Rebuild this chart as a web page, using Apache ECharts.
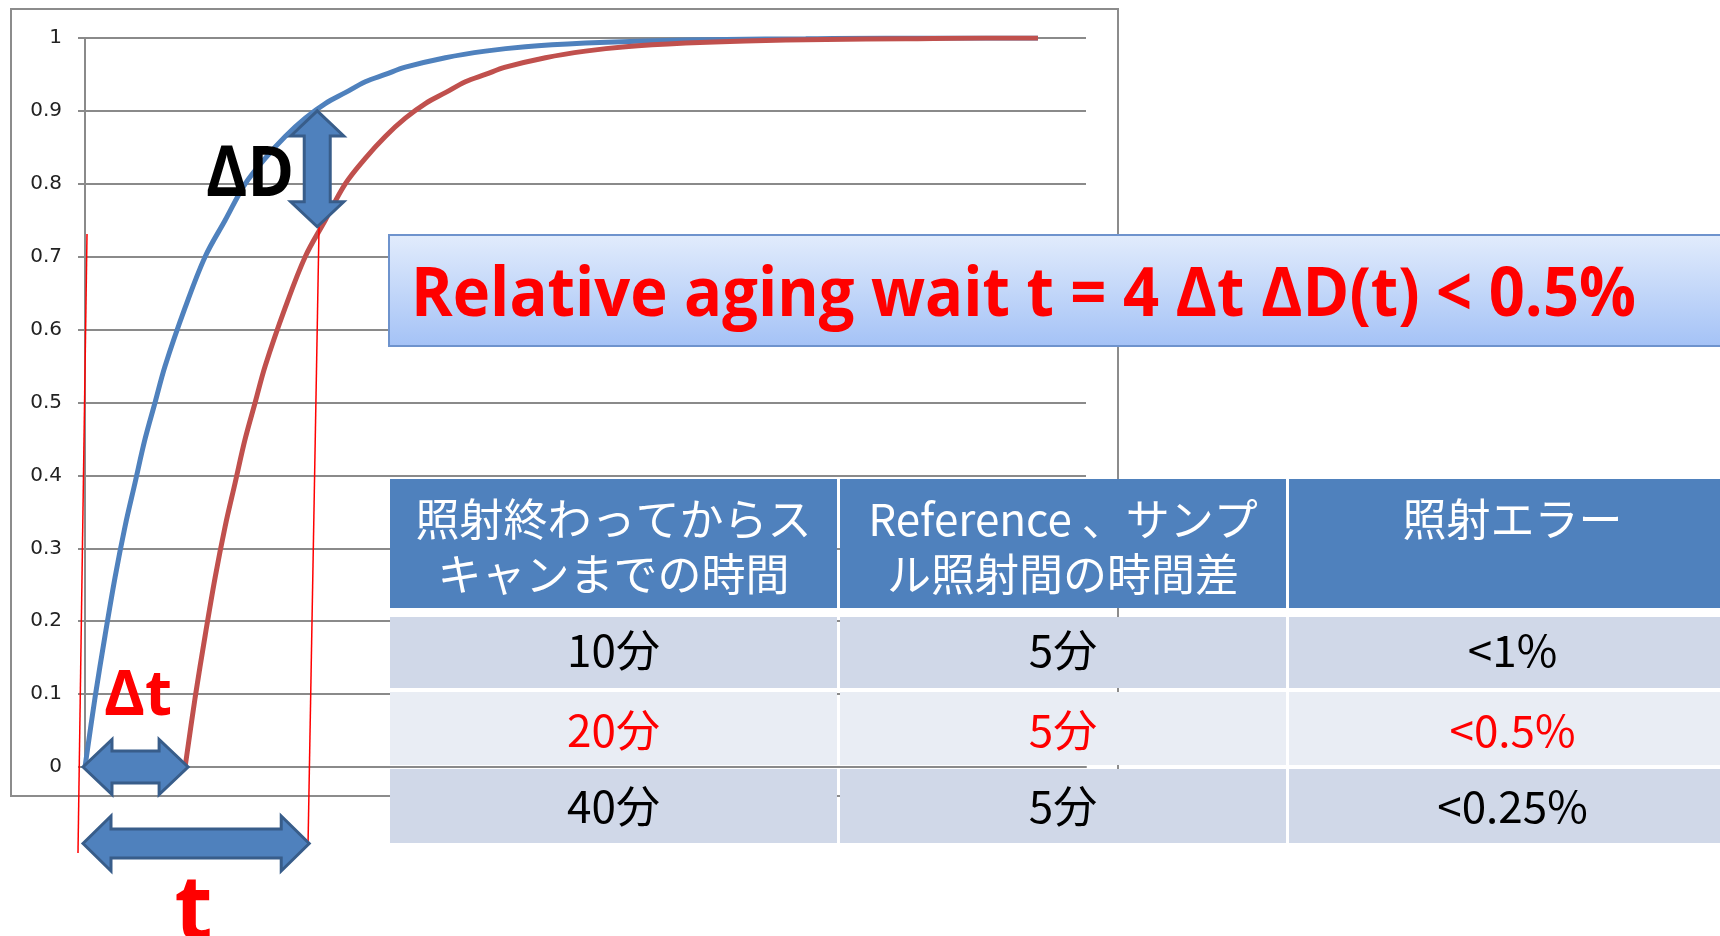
<!DOCTYPE html>
<html>
<head>
<meta charset="utf-8">
<script src="https://cdn.jsdelivr.net/npm/echarts@6/dist/echarts.min.js"></script>
<style>
html,body{margin:0;padding:0;background:#fff;}
#main{width:1720px;height:936px;}
</style>
</head>
<body>
<div id="main"></div>
<script>
// ---- chart data (minutes after irradiation, relative darkening) ----
const blueMinutes = [0,0.5,1,1.5,2,2.5,3,3.5,4,5,6,7,8,9,10,11,12,13,14,15,16,18,20,22,25,28,32,36,40,44,47.6];
const blueValues  = [0,0.095,0.18,0.26,0.33,0.39,0.45,0.50,0.55,0.63,0.70,0.75,0.80,0.835,0.865,0.89,0.91,0.925,0.94,0.95,0.96,0.973,0.982,0.988,0.993,0.996,0.998,0.999,1,1,1];
const redMinutes  = [5,5.5,6,6.5,7,7.5,8,8.5,9,10,11,12,13,14,15,16,17,18,19,20,21,23,25,27,30,33,37,41,45,47.6];
const redValues   = [0,0.095,0.18,0.26,0.33,0.39,0.45,0.50,0.55,0.63,0.70,0.75,0.80,0.835,0.865,0.89,0.91,0.925,0.94,0.95,0.96,0.973,0.982,0.988,0.993,0.996,0.998,0.999,1,1];
const yTicks = [0,0.1,0.2,0.3,0.4,0.5,0.6,0.7,0.8,0.9,1];

// ---- annotation texts ----
const titleText = "Relative aging wait t = 4 Δt ΔD(t) < 0.5%";
const headers = [["照射終わってからス","キャンまでの時間"],["Reference 、サンプ","ル照射間の時間差"],["照射エラー"]];
const waitTimes = ["10分","20分","40分"];
const refGaps = ["5分","5分","5分"];
const errors = ["<1%","<0.5%","<0.25%"];
const highlightRow = 1;

const chart = echarts.init(document.getElementById('main'), null, {renderer:'canvas'});
const gray = '#8a8a8a';
const option = {
  animation:false,
  grid:{left:85, right:634, top:38, bottom:169, containLabel:false},
  xAxis:{type:'value', min:0, max:50, axisLabel:{show:false}, axisTick:{show:false},
    splitLine:{show:false}, axisLine:{show:true, lineStyle:{color:gray, width:2}}},
  yAxis:{type:'value', min:0, max:1, interval:0.1,
    axisLine:{show:true, lineStyle:{color:gray, width:2}},
    axisTick:{show:true, length:7, lineStyle:{color:gray, width:2}},
    splitLine:{show:true, lineStyle:{color:gray, width:2}},
    axisLabel:{margin:23, fontSize:20, fontFamily:'DejaVu Sans', color:'#222',
      formatter:v=>{const t=yTicks.find(k=>Math.abs(k-v)<1e-6); return String(t!==undefined?t:v);}}},
  series:[
    {type:'line', data:blueMinutes.map((m,i)=>[m,blueValues[i]]), showSymbol:false, smooth:0.35,
     lineStyle:{color:'#4f81bd', width:5}, itemStyle:{color:'#4f81bd'}, z:2},
    {type:'line', data:redMinutes.map((m,i)=>[m,redValues[i]]), showSymbol:false, smooth:0.35,
     lineStyle:{color:'#c0504d', width:5}, itemStyle:{color:'#c0504d'}, z:3}
  ]
};
chart.setOption(option);

const px = (x,y)=>chart.convertToPixel({gridIndex:0},[x,y]);
const mctx = document.createElement('canvas').getContext('2d');
function fit(text,font,target){mctx.font=font;return target/mctx.measureText(text).width;}

function dblArrow(p1,p2,hl,hw,sw){
  const dx=p2[0]-p1[0], dy=p2[1]-p1[1], L=Math.hypot(dx,dy);
  const u=[dx/L,dy/L], n=[-u[1],u[0]];
  const P=(b,a,s)=>[b[0]+u[0]*a+n[0]*s, b[1]+u[1]*a+n[1]*s];
  return [p1, P(p1,hl,hw/2), P(p1,hl,sw/2), P(p2,-hl,sw/2), P(p2,-hl,hw/2), p2,
          P(p2,-hl,-hw/2), P(p2,-hl,-sw/2), P(p1,hl,-sw/2), P(p1,hl,-hw/2)];
}
const arrowStyle = {fill:'#4f81bd', stroke:'#385d8a', lineWidth:3, lineJoin:'miter'};

const g = [];
// chart frame
g.push({type:'rect', z:1, shape:{x:11,y:9,width:1107,height:787}, style:{fill:null, stroke:'#8c8c8c', lineWidth:2}});
// red guide lines
const a1=px(0.1,0.731), b1=px(-0.35,-0.118), a2=px(11.69,0.741), b2=px(11.14,-0.107);
g.push({type:'line', z:50, shape:{x1:a1[0],y1:a1[1],x2:b1[0],y2:b1[1]}, style:{stroke:'#ff0000', lineWidth:1.5}});
g.push({type:'line', z:50, shape:{x1:a2[0],y1:a2[1],x2:b2[0],y2:b2[1]}, style:{stroke:'#ff0000', lineWidth:1.5}});
// arrows
g.push({type:'polygon', z:60, shape:{points:dblArrow(px(11.6,0.9),px(11.6,0.741),25,53,26)}, style:arrowStyle});
g.push({type:'polygon', z:60, shape:{points:dblArrow(px(-0.1,0),px(5.15,0),29,55,32)}, style:arrowStyle});
g.push({type:'polygon', z:60, shape:{points:dblArrow(px(-0.1,-0.105),px(11.2,-0.105),28,55,29)}, style:arrowStyle});
// labels
const fD='bold 70px "Open Sans"';
g.push({type:'text', z:70, x:206, y:176, scaleX:fit('ΔD',fD,88), style:{text:'ΔD', font:fD, fill:'#000', align:'left', verticalAlign:'middle'}});
const fdt='bold 62px "Open Sans"';
g.push({type:'text', z:70, x:104, y:697, scaleX:fit('Δt',fdt,68), style:{text:'Δt', font:fdt, fill:'#ff0000', align:'left', verticalAlign:'middle'}});
const ft='bold 92px "Open Sans"';
g.push({type:'text', z:70, x:193.5, y:914, scaleX:fit('t',ft,38), style:{text:'t', font:ft, fill:'#ff0000', align:'center', verticalAlign:'middle'}});
// title box
g.push({type:'rect', z:80, shape:{x:389,y:235,width:1400,height:111},
  style:{fill:new echarts.graphic.LinearGradient(0,0,0,1,[{offset:0,color:'#e2ecfc'},{offset:1,color:'#a4c2f6'}]), stroke:'#6e93cd', lineWidth:2}});
const fT='bold 68px "Open Sans"';
g.push({type:'text', z:81, x:411, y:297, scaleX:fit(titleText,fT,1225), style:{text:titleText, font:fT, fill:'#ff0000', align:'left', verticalAlign:'middle'}});
// table
const colX=[390,840,1289], colW=[447,446,447];
const rowY=[617,692,769], rowH=[71,73,74], rowFill=['#d0d8e8','#e9edf4','#d0d8e8'];
const textMid=[650,730,806];
const fc='44px "Noto Sans CJK JP"';
for(let c=0;c<3;c++){
  g.push({type:'rect', z:80, shape:{x:colX[c],y:479,width:colW[c],height:129}, style:{fill:'#4f81bd'}});
  headers[c].forEach((line,i)=>{
    g.push({type:'text', z:81, x:colX[c]+colW[c]/2, y:519+55*i, style:{text:line, font:fc, fill:'#fff', align:'center', verticalAlign:'middle'}});
  });
}
const cols=[waitTimes,refGaps,errors];
for(let r=0;r<3;r++){
  for(let c=0;c<3;c++){
    g.push({type:'rect', z:80, shape:{x:colX[c],y:rowY[r],width:colW[c],height:rowH[r]}, style:{fill:rowFill[r]}});
    g.push({type:'text', z:81, x:colX[c]+colW[c]/2, y:textMid[r], style:{text:cols[c][r], font:fc, fill:r===highlightRow?'#ff0000':'#000', align:'center', verticalAlign:'middle'}});
  }
}
chart.setOption({graphic:{elements:g}});
</script>
</body>
</html>
